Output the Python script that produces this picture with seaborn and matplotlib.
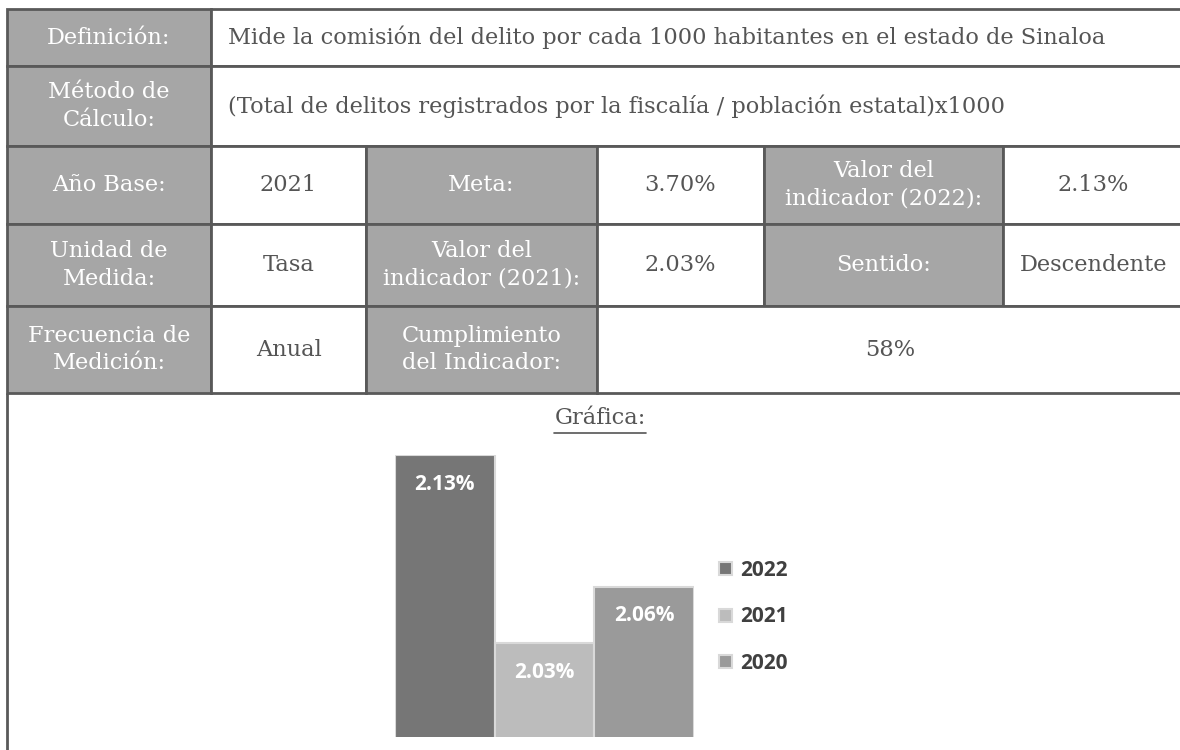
import matplotlib
matplotlib.use("Agg")
import matplotlib.pyplot as plt
import seaborn as sns
import pandas as pd
from matplotlib.patches import Rectangle

# datos de la grafica
years = ["2022", "2021", "2020"]
values = [2.13, 2.03, 2.06]
bar_labels = ["2.13%", "2.03%", "2.06%"]

# textos de la ficha
definicion = "Mide la comisión del delito por cada 1000 habitantes en el estado de Sinaloa"
metodo = "(Total de delitos registrados por la fiscalía / población estatal)x1000"
row3 = ["Año Base:", "2021", "Meta:", "3.70%", "Valor del\nindicador (2022):", "2.13%"]
row4 = ["Unidad de\nMedida:", "Tasa", "Valor del\nindicador (2021):", "2.03%", "Sentido:", "Descendente"]
row5 = ["Frecuencia de\nMedición:", "Anual", "Cumplimiento\ndel Indicador:", "58%"]

HDR = "#a6a6a6"
LINE = "#595959"
TXT = "#555555"
SERIF = ["DejaVu Serif"]
FS = 16.2

sns.set_theme(style="white")
fig = plt.figure(figsize=(11.8, 7.5), dpi=100)
ax = fig.add_axes([0, 0, 1, 1])
ax.set_xlim(0, 1180)
ax.set_ylim(750, 0)
ax.axis("off")

col_x = [7, 211, 366, 597, 764, 1003, 1184]
row_y = [9, 66, 146, 224, 306, 393]


def cell(x0, x1, y0, y1, text, header, left=False):
    ax.add_patch(Rectangle((x0, y0), x1 - x0, y1 - y0, facecolor=HDR if header else "white",
                           edgecolor=LINE, linewidth=2, zorder=1))
    if left:
        ax.text(x0 + 17, (y0 + y1) / 2, text, ha="left", va="center", fontsize=FS,
                family=SERIF, color=TXT, zorder=3)
    else:
        ax.text((x0 + x1) / 2, (y0 + y1) / 2, text, ha="center", va="center", fontsize=FS,
                family=SERIF, color="white" if header else TXT, linespacing=1.3, zorder=3)


cell(col_x[0], col_x[1], row_y[0], row_y[1], "Definición:", True)
cell(col_x[1], col_x[6], row_y[0], row_y[1], definicion, False, left=True)
cell(col_x[0], col_x[1], row_y[1], row_y[2], "Método de\nCálculo:", True)
cell(col_x[1], col_x[6], row_y[1], row_y[2], metodo, False, left=True)
for i, t in enumerate(row3):
    cell(col_x[i], col_x[i + 1], row_y[2], row_y[3], t, i % 2 == 0)
for i, t in enumerate(row4):
    cell(col_x[i], col_x[i + 1], row_y[3], row_y[4], t, i % 2 == 0)
for i, t in enumerate(row5[:3]):
    cell(col_x[i], col_x[i + 1], row_y[4], row_y[5], t, i % 2 == 0)
cell(col_x[3], col_x[6], row_y[4], row_y[5], row5[3], False)

# borde izquierdo de la zona de la grafica
ax.plot([7, 7], [393, 752], color=LINE, linewidth=2, solid_capstyle="butt")

tt = ax.text(600, 418, "Gráfica:", ha="center", va="center", fontsize=FS, family=SERIF, color=TXT)
fig.canvas.draw()
bb = tt.get_window_extent().transformed(ax.transData.inverted())
ax.plot([bb.x0, bb.x1], [433, 433], color=TXT, linewidth=1.2)

# grafica de barras
df = pd.DataFrame({"year": years, "value": values})
colors = ["#767676", "#bcbcbc", "#9a9a9a"]
ax_b = fig.add_axes([395 / 1180, (750 - 737) / 750, 299 / 1180, 282 / 750])
sns.barplot(data=df, x="year", y="value", hue="year", order=years, hue_order=years,
            palette=colors, width=1, dodge=False, edgecolor="#d9d9d9", linewidth=1.5,
            ax=ax_b, legend=True)
ax_b.set_ylim(1.98, 2.13)
ax_b.set_xlim(-0.5, 2.5)
ax_b.axis("off")
for i, (v, lab) in enumerate(zip(values, bar_labels)):
    ax_b.annotate(lab, (i, v), xytext=(0, -29), textcoords="offset pixels", ha="center",
                  va="center", color="white", fontweight="bold", fontsize=15, family="Open Sans")

handles, labels = ax_b.get_legend_handles_labels()
if ax_b.get_legend() is not None:
    ax_b.get_legend().remove()
fig.legend(handles, labels, loc="center left", bbox_to_anchor=(709 / 1180, 1 - 617 / 750),
           frameon=False, handlelength=0.6, handleheight=0.6, handletextpad=0.4,
           labelspacing=1.22, borderpad=0, labelcolor="#404040",
           prop={"family": "Open Sans", "weight": "bold", "size": 15})

fig.savefig("out.png", dpi=100)
